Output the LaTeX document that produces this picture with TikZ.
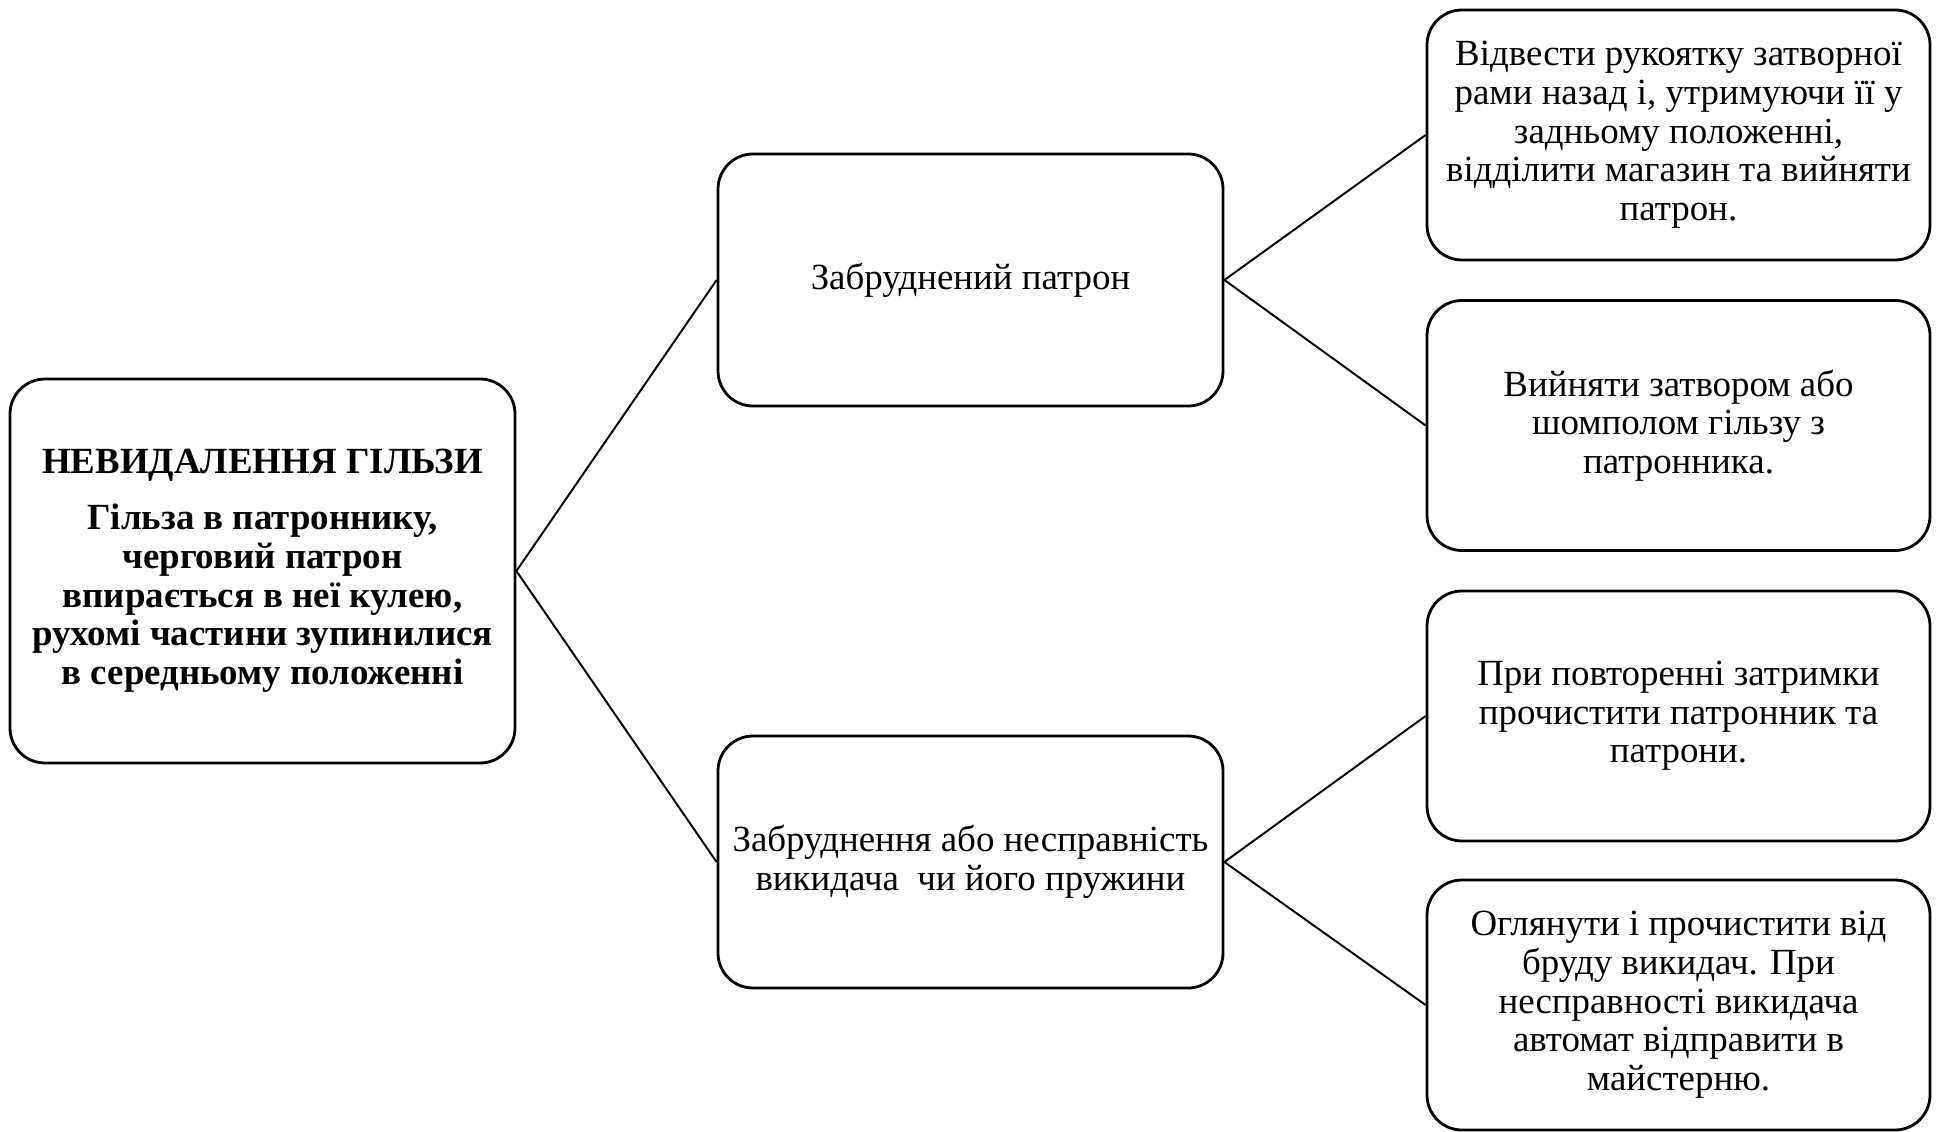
\documentclass[tikz,border=0pt]{standalone}
\usepackage{fontspec}
\setmainfont{Liberation Serif}
\usepackage{tikz}

\begin{document}
\begin{tikzpicture}[
    rootbox/.style={rectangle, rounded corners=0.7cm, draw=black, line width=1.6pt, minimum width=10.1cm, minimum height=7.68cm, align=center, font=\fontsize{21}{22}\selectfont\bfseries},
    causebox/.style={rectangle, rounded corners=0.7cm, draw=black, line width=1.6pt, minimum width=10.1cm, minimum height=5.04cm, align=center, font=\fontsize{21}{22}\selectfont},
    actbox/.style={rectangle, rounded corners=0.7cm, draw=black, line width=1.6pt, minimum width=10.06cm, minimum height=5.0cm, align=center, font=\fontsize{21}{22}\selectfont},
    link/.style={draw=black, line width=1.1pt}
]
\useasboundingbox (0,0) rectangle (38.74,-22.64);

% Malfunction
\node[rootbox] (root) at (5.25,-11.42) {НЕВИДАЛЕННЯ ГІЛЬЗИ\\[0.35cm]Гільза в патроннику,\\черговий патрон\\впирається в неї кулею,\\рухомі частини зупинилися\\в середньому положенні};

% Causes
\node[causebox] (dirty)  at (19.41,-5.6)  {Забруднений патрон};
\node[causebox] (eject)  at (19.41,-17.24) {Забруднення або несправність\\викидача\ \ чи його пружини};

% Remedies
\node[actbox] (pull)   at (33.57,-2.70)  {Відвести рукоятку затворної\\рами назад і, утримуючи її у\\задньому положенні,\\відділити магазин та вийняти\\патрон.};
\node[actbox] (rod)    at (33.57,-8.51)  {Вийняти затвором або\\шомполом гільзу з\\патронника.};
\node[actbox] (clean)  at (33.57,-14.32) {При повторенні затримки\\прочистити патронник та\\патрони.};
\node[actbox] (repair) at (33.57,-20.1)  {Оглянути і прочистити від\\бруду викидач. При\\несправності викидача\\автомат відправити в\\майстерню.};

% Malfunction to causes
\draw[link] (root.east) -- (dirty.west);
\draw[link] (root.east) -- (eject.west);

% Causes to remedies
\draw[link] (dirty.east) -- (pull.west);
\draw[link] (dirty.east) -- (rod.west);
\draw[link] (eject.east) -- (clean.west);
\draw[link] (eject.east) -- (repair.west);

\end{tikzpicture}
\end{document}
